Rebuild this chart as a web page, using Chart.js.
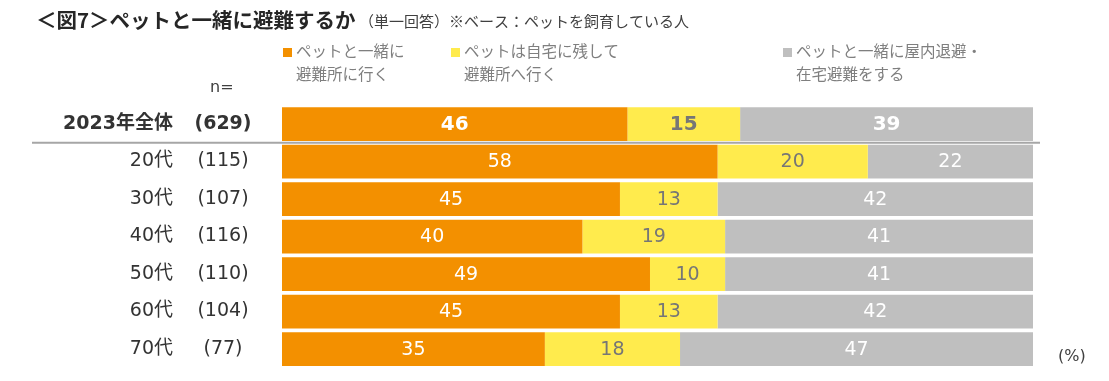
<!DOCTYPE html>
<html><head><meta charset="utf-8">
<script src="https://cdn.jsdelivr.net/npm/chart.js@4/dist/chart.umd.min.js"></script>
<style>
html,body{margin:0;padding:0;background:#fff;}
#wrap{position:relative;width:1109px;height:381px;}
canvas{position:absolute;left:0;top:0;}
</style></head>
<body><div id="wrap"><canvas id="c" width="1109" height="381"></canvas></div>
<script>
const categories = ["2023年全体","20代","30代","40代","50代","60代","70代"];
const nCounts = ["(629)","(115)","(107)","(116)","(110)","(104)","(77)"];
const seriesNames = [["ペットと一緒に","避難所に行く"],["ペットは自宅に残して","避難所へ行く"],["ペットと一緒に屋内退避・","在宅避難をする"]];
const withPet = [46,58,45,40,49,45,35];
const leaveHome = [15,20,13,19,10,13,18];
const stayHome = [39,22,42,41,41,42,47];
const colors = ["#F39000","#FFEB4D","#BFBFBF"];
const labelColors = ["#FFFFFF","#767676","#FFFFFF"];

const FONT = "'DejaVu Sans','Noto Sans CJK JP',sans-serif";
const JFONT = "'Noto Sans CJK JP','DejaVu Sans',sans-serif";

const decor = {
  id:'decor',
  afterDraw(chart){
    const ctx = chart.ctx;
    const y = chart.scales.y;
    ctx.save();
    // title
    ctx.textBaseline='middle';
    ctx.fillStyle='#262626';
    ctx.font="bold 20.5px "+JFONT;
    ctx.textAlign='left';
    const t1="＜図7＞ペットと一緒に避難するか";
    ctx.fillText(t1,36,20);
    ctx.font="15px "+JFONT;
    ctx.fillStyle='#404040';
    ctx.fillText("（単一回答）※ベース：ペットを飼育している人",359,21);
    // legend
    const lx=[283,451,783];
    ctx.font="15.5px "+JFONT;
    for(let i=0;i<3;i++){
      ctx.fillStyle=colors[i];
      ctx.fillRect(lx[i],48,9,9);
      ctx.fillStyle='#7F7F7F';
      ctx.fillText(seriesNames[i][0],lx[i]+13,51);
      ctx.fillText(seriesNames[i][1],lx[i]+13,74);
    }
    // n=
    ctx.fillStyle='#404040';
    ctx.font="16px "+FONT;
    ctx.fillText("n=",210,88);
    // category labels
    for(let i=0;i<categories.length;i++){
      const py=y.getPixelForValue(i);
      const bold = i===0;
      ctx.fillStyle='#333333';
      ctx.font=(bold?"bold ":"")+"19px "+FONT;
      ctx.textAlign='right';
      ctx.fillText(categories[i],173,py);
      ctx.textAlign='center';
      ctx.fillText(nCounts[i],223,py);
    }
    // separator line
    const sepY=(y.getPixelForValue(0)+y.getPixelForValue(1))/2;
    ctx.strokeStyle='#A6A6A6';
    ctx.lineWidth=2;
    ctx.beginPath();ctx.moveTo(32,sepY);ctx.lineTo(1040,sepY);ctx.stroke();
    // (%)
    ctx.fillStyle='#404040';
    ctx.font="16px "+FONT;
    ctx.textAlign='left';
    ctx.fillText("(%)",1058,357);
    // value labels
    chart.data.datasets.forEach((ds,di)=>{
      const meta=chart.getDatasetMeta(di);
      meta.data.forEach((bar,i)=>{
        ctx.fillStyle=labelColors[di];
        ctx.font=(i===0?"bold 20px ":"19px ")+FONT;
        ctx.textAlign='center';
        ctx.textBaseline='middle';
        const cx=(bar.x+bar.base)/2;
        ctx.fillText(String(ds.data[i]),cx,bar.y+1);
      });
    });
    ctx.restore();
  }
};

new Chart(document.getElementById('c'),{
  type:'bar',
  data:{
    labels:categories,
    datasets:[
      {label:seriesNames[0].join(''),data:withPet,backgroundColor:colors[0]},
      {label:seriesNames[1].join(''),data:leaveHome,backgroundColor:colors[1]},
      {label:seriesNames[2].join(''),data:stayHome,backgroundColor:colors[2]}
    ]
  },
  options:{
    indexAxis:'y',
    responsive:false,
    animation:false,
    devicePixelRatio:1,
    layout:{padding:{left:282,right:76,top:105.25,bottom:13.25}},
    datasets:{bar:{barPercentage:0.9,categoryPercentage:1,borderWidth:0}},
    scales:{
      x:{stacked:true,min:0,max:100,display:false},
      y:{stacked:true,display:false}
    },
    plugins:{legend:{display:false},tooltip:{enabled:false}}
  },
  plugins:[decor]
});
</script></body></html>
